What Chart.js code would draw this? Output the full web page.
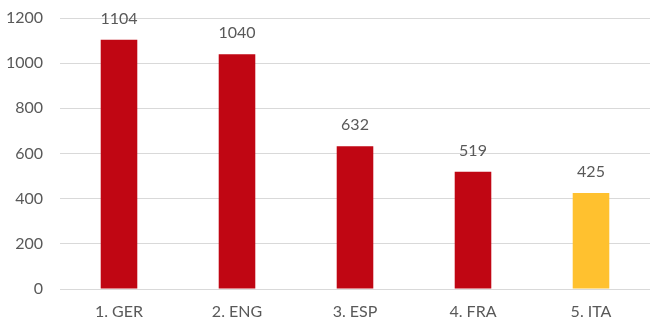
<!DOCTYPE html>
<html>
<head>
<meta charset="utf-8">
<script src="https://cdn.jsdelivr.net/npm/chart.js@4"></script>
<style>
  html, body { margin: 0; padding: 0; background: #fff; }
  #wrap { width: 650px; height: 320px; }
</style>
</head>
<body>
<div id="wrap"><canvas id="rankChart"></canvas></div>
<script>
// ranking data
const countries = ['1. GER', '2. ENG', '3. ESP', '4. FRA', '5. ITA'];
const points = [1104, 1040, 632, 519, 425];
const barColors = ['#C00613', '#C00613', '#C00613', '#C00613', '#FFC12F'];
const yTicks = [0, 200, 400, 600, 800, 1000, 1200];

const textColor = '#595959';
const fontFamily = 'Lato, "Open Sans", sans-serif';

// draws the value above each bar
const valueLabels = {
    id: 'valueLabels',
    afterDatasetsDraw(chart) {
        const ctx = chart.ctx;
        const meta = chart.getDatasetMeta(0);
        ctx.save();
        ctx.fillStyle = textColor;
        ctx.font = '16px ' + fontFamily;
        ctx.textAlign = 'center';
        ctx.textBaseline = 'middle';
        meta.data.forEach((bar, i) => {
            ctx.fillText(String(points[i]), bar.x, bar.y - 21);
        });
        ctx.restore();
    }
};

new Chart(document.getElementById('rankChart'), {
    type: 'bar',
    data: {
        labels: countries,
        datasets: [{
            data: points,
            backgroundColor: barColors,
            barPercentage: 0.31,
            categoryPercentage: 1
        }]
    },
    options: {
        responsive: true,
        maintainAspectRatio: false,
        animation: false,
        layout: { padding: { top: 18, right: 0, bottom: 0, left: 0 } },
        plugins: {
            legend: { display: false },
            tooltip: { enabled: false }
        },
        scales: {
            x: {
                afterFit(scale) { scale.height = 31; },
                grid: { display: false },
                border: { display: false },
                ticks: {
                    color: textColor,
                    font: { family: fontFamily, size: 16 },
                    padding: 5
                }
            },
            y: {
                min: 0,
                max: 1200,
                afterFit(scale) {
                    scale.width = 60;
                    scale.paddingTop = 0;
                    scale.paddingBottom = 0;
                },
                afterBuildTicks(scale) { scale.ticks = yTicks.map(v => ({ value: v })); },
                grid: { color: '#D9D9D9', lineWidth: 1, drawTicks: false },
                border: { display: false },
                ticks: {
                    color: textColor,
                    font: { family: fontFamily, size: 16 },
                    padding: 17,
                    callback: v => String(v)
                }
            }
        }
    },
    plugins: [valueLabels]
});
</script>
</body>
</html>
